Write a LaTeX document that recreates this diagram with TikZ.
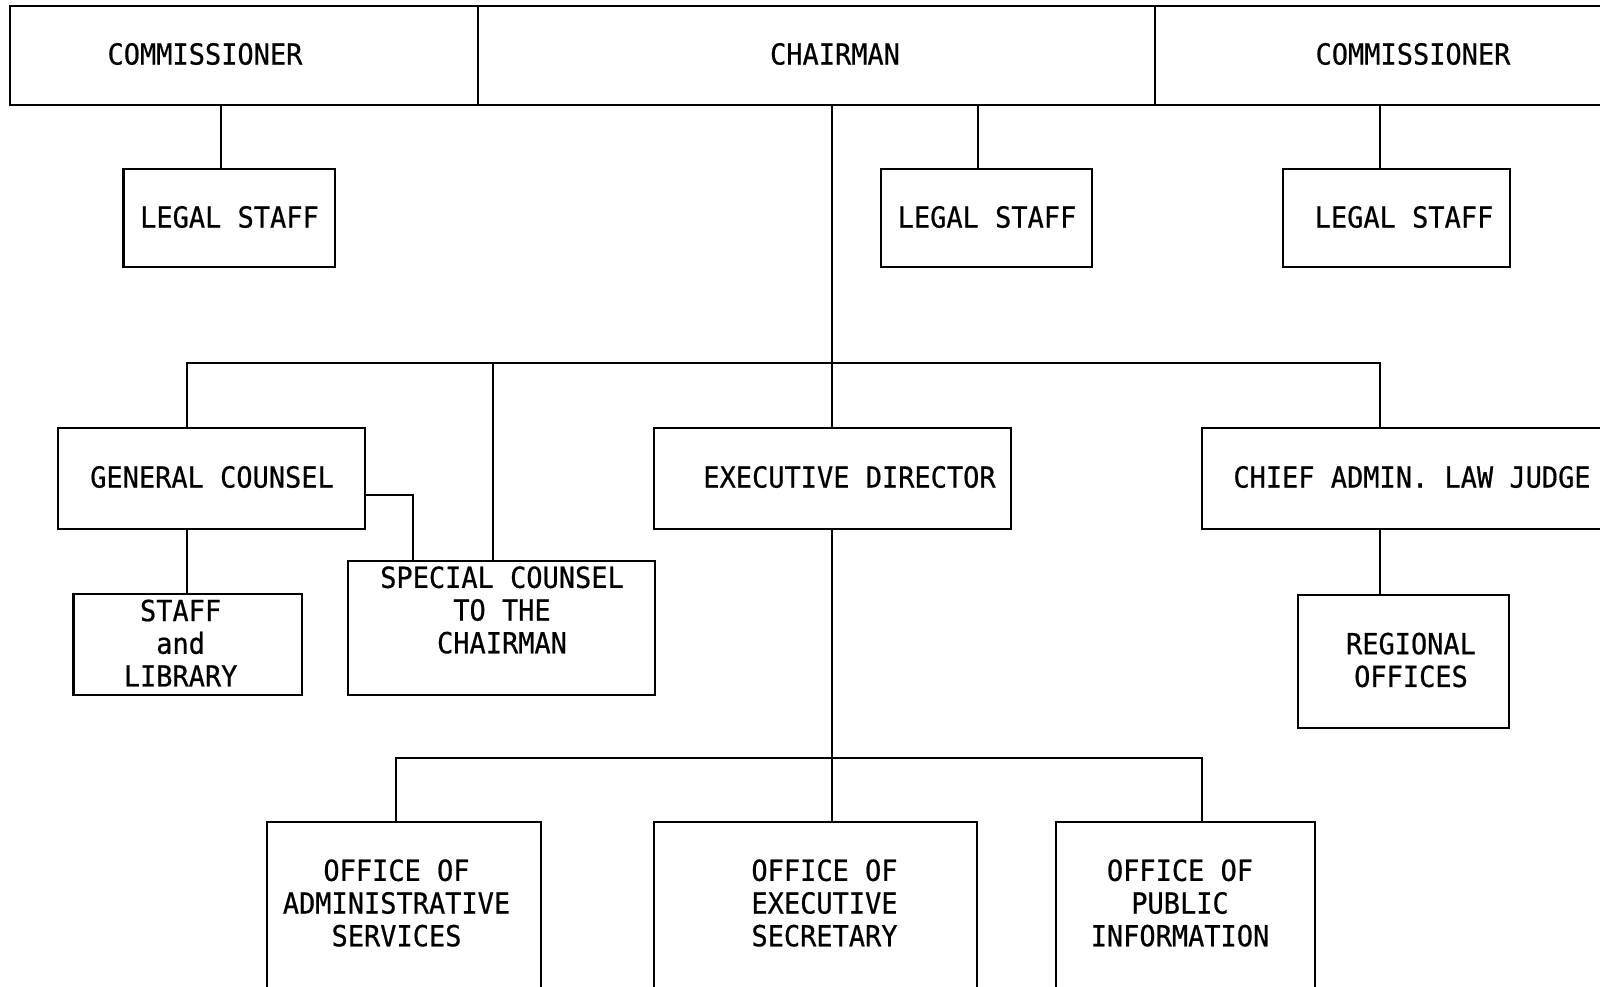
\documentclass[tikz,border=0pt]{standalone}
\usepackage{fontspec}
\newfontfamily\typefont{DejaVu Sans Mono}[FakeStretch=0.93,FakeBold=0.6]
\begin{document}
\begin{tikzpicture}[x=1pt,y=-1pt,
  box/.style={draw, line width=2.6pt, inner sep=0pt, outer sep=0pt},
  lbl/.style={inner sep=0pt, align=center, font=\typefont\fontsize{29}{32.7}\selectfont},
  wire/.style={line width=2.6pt, line join=miter}]
\useasboundingbox (0,0) rectangle (1600,986);
\clip (0,0) rectangle (1600,986);
% top row
\node[box, minimum width=468pt, minimum height=99pt] (comL) at (244,55.5) {};
\node[box, minimum width=677pt, minimum height=99pt] (chair) at (816.5,55.5) {};
\node[box, minimum width=485pt, minimum height=99pt] (comR) at (1397.5,55.5) {};
\node[lbl] (tcomL) at (205,54) {COMMISSIONER};
\node[lbl] (tchair) at (835,54) {CHAIRMAN};
\node[lbl] (tcomR) at (1413,54) {COMMISSIONER};
% legal staff
\node[box, minimum width=211.5pt, minimum height=98pt] (legL) at (229.25,218) {};
\node[box, minimum width=211pt, minimum height=98pt] (legM) at (986.5,218) {};
\node[box, minimum width=227pt, minimum height=98pt] (legR) at (1396.5,218) {};
\node[lbl] (tlegL) at (229.5,217) {LEGAL STAFF};
\node[lbl] (tlegM) at (987,217) {LEGAL STAFF};
\node[lbl] (tlegR) at (1404,217) {LEGAL STAFF};
% second level
\node[box, minimum width=307pt, minimum height=101pt] (gc) at (211.5,478.5) {};
\node[box, minimum width=357pt, minimum height=101pt] (exec) at (832.5,478.5) {};
\node[box, minimum width=438pt, minimum height=101pt] (alj) at (1421,478.5) {};
\node[lbl] (tgc) at (212,477) {GENERAL COUNSEL};
\node[lbl] (texec) at (849.5,477) {EXECUTIVE DIRECTOR};
\node[lbl] (talj) at (1412,477) {CHIEF ADMIN. LAW JUDGE};
% third level
\node[box, minimum width=228.5pt, minimum height=101pt] (sl) at (187.75,644.5) {};
\node[box, minimum width=307pt, minimum height=134pt] (sc) at (501.5,628) {};
\node[box, minimum width=211pt, minimum height=133pt] (ro) at (1403.5,661.5) {};
\node[lbl] (tsl) at (180.6,643) {STAFF\\and\\LIBRARY};
\node[lbl] (tsc) at (502,610) {SPECIAL COUNSEL\\TO THE\\CHAIRMAN};
\node[lbl] (tro) at (1411,660) {REGIONAL\\OFFICES};
% bottom level
\node[box, minimum width=274pt, minimum height=218pt] (oas) at (404,931) {};
\node[box, minimum width=323pt, minimum height=218pt] (oes) at (815.5,931) {};
\node[box, minimum width=259pt, minimum height=218pt] (opi) at (1185.5,931) {};
\node[lbl] (toas) at (396.5,903) {OFFICE OF\\ADMINISTRATIVE\\SERVICES};
\node[lbl] (toes) at (824.5,903) {OFFICE OF\\EXECUTIVE\\SECRETARY};
\node[lbl] (topi) at (1180,903) {OFFICE OF\\PUBLIC\\INFORMATION};
% connector coordinates
\coordinate (cL) at (221,0);
\coordinate (cM) at (978,0);
\coordinate (cR) at (1380,0);
\coordinate (cC) at (832,0);
\coordinate (b1L) at (187,363);
\coordinate (b1S) at (493,363);
\coordinate (b1R) at (1380,363);
\coordinate (elb) at (413,495);
\coordinate (b2L) at (396,758);
\coordinate (b2R) at (1202,758);
% connectors
\draw[wire] (comL.south -| cL) -- (legL.north -| cL);
\draw[wire] (chair.south -| cM) -- (legM.north -| cM);
\draw[wire] (comR.south -| cR) -- (legR.north -| cR);
\draw[wire] (chair.south -| cC) -- (exec.north -| cC);
\draw[wire] (gc.north -| b1L) -- (b1L) -- (b1R) -- (alj.north -| b1R);
\draw[wire] (b1S) -- (sc.north -| b1S);
\draw[wire] (gc.south -| b1L) -- (sl.north -| b1L);
\draw[wire] (elb -| gc.east) -- (elb) -- (elb |- sc.north);
\draw[wire] (alj.south -| b1R) -- (ro.north -| b1R);
\draw[wire] (exec.south -| cC) -- (oes.north -| cC);
\draw[wire] (oas.north -| b2L) -- (b2L) -- (b2R) -- (opi.north -| b2R);
\end{tikzpicture}
\end{document}
